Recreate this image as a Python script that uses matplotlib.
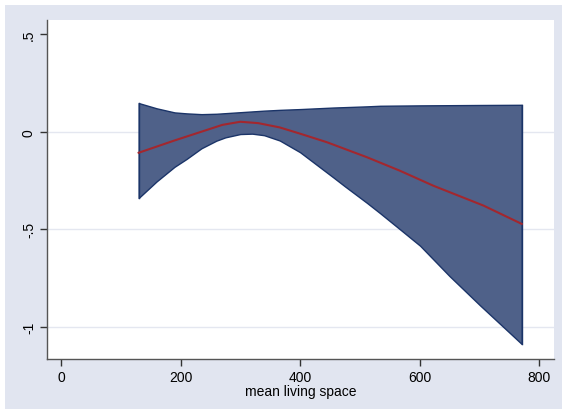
import matplotlib.pyplot as plt
from matplotlib.patches import Rectangle

plt.rcParams["font.family"] = ["Liberation Sans", "DejaVu Sans"]

# band: upper / lower confidence limits
x_band = [130, 160, 190, 210, 235, 260, 275, 300, 320, 340, 366, 400,
          456, 475, 512, 534, 567, 601, 650, 701, 771]
upper = [0.147, 0.12, 0.099, 0.094, 0.090, 0.092, 0.095, 0.100, 0.104, 0.108,
         0.112, 0.116, 0.124, 0.126, 0.130, 0.133, 0.134, 0.135, 0.136, 0.137, 0.138]
lower = [-0.34, -0.255, -0.18, -0.14, -0.085, -0.046, -0.029, -0.012, -0.010, -0.018,
         -0.045, -0.105, -0.235, -0.28, -0.365, -0.418, -0.50, -0.585, -0.74, -0.89, -1.089]

# fitted line
x_fit = [130, 190, 235, 270, 300, 330, 366, 400, 445, 512, 567, 623, 707, 771]
fit = [-0.108, -0.045, 0.0, 0.035, 0.051, 0.044, 0.022, -0.01, -0.054, -0.131,
       -0.2, -0.277, -0.379, -0.473]

yticks = [-1, -0.5, 0, 0.5]
ytick_labels = ["-1", "-.5", "0", ".5"]
xticks = [0, 200, 400, 600, 800]

W, H = 562, 414
fig = plt.figure(figsize=(W / 100, H / 100), dpi=100)
fig.patch.set_facecolor("white")
fig.patches.append(Rectangle((5 / W, 4 / H), 1 - 5 / W, (410 - 6) / H,
                             transform=fig.transFigure, facecolor="#E1E5F0",
                             edgecolor="none", zorder=-1))

ax = fig.add_axes([47 / W, (H - 360) / H, (554 - 47) / W, (360 - 21) / H])
ax.set_facecolor("white")

for yv in [-1, -0.5, 0]:
    ax.axhline(yv, color="#E4E7F0", lw=1.0, zorder=0)

ax.fill_between(x_band, lower, upper, facecolor="#4F6189",
                edgecolor="#1B3468", lw=1.0, zorder=2)
ax.plot([x_band[0], x_band[0]], [lower[0], upper[0]], color="#1B3468", lw=1.0, zorder=2)
ax.plot([x_band[-1], x_band[-1]], [lower[-1], upper[-1]], color="#1B3468", lw=1.0, zorder=2)
ax.plot(x_fit, fit, color="#A3272E", lw=1.5, zorder=3)

ax.set_xlim(-23.4, 825)
ax.set_ylim(-1.166, 0.573)
ax.set_xticks(xticks)
ax.set_xticklabels([str(v) for v in xticks], fontsize=10)
ax.set_yticks(yticks)
ax.set_yticklabels(ytick_labels, fontsize=10, rotation=90, va="center")
ax.tick_params(direction="out", length=5, width=1, color="#333333", pad=3)
ax.set_xlabel("mean living space", fontsize=10, labelpad=0)

for s in ["top", "right"]:
    ax.spines[s].set_visible(False)
for s in ["left", "bottom"]:
    ax.spines[s].set_color("#555555")
    ax.spines[s].set_linewidth(1.0)

fig.savefig("out.png", dpi=100)
